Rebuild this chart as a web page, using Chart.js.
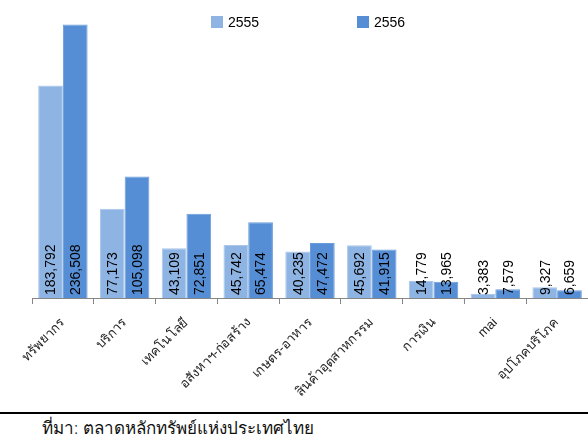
<!DOCTYPE html>
<html>
<head>
<meta charset="utf-8">
<script src="https://cdn.jsdelivr.net/npm/chart.js@4"></script>
<style>
  body { margin: 0; width: 588px; height: 442px; background: #fff; overflow: hidden; position: relative; font-family: "Liberation Sans", Arial, sans-serif; }
  #wrap { position: absolute; left: 0; top: 0; width: 588px; height: 405px; }
  .leg { position: absolute; top: 14px; font-size: 14px; color: #000; }
  .leg span { display: inline-block; width: 12px; height: 12px; vertical-align: -1px; margin-right: 5px; }
  #rule { position: absolute; left: 0; top: 412px; width: 588px; height: 2px; background: #000; }
  #source { position: absolute; left: 42px; top: 414px; font-size: 17px; font-weight: 300; color: #111; font-family: "Noto Sans", sans-serif; }
</style>
</head>
<body>
<div id="wrap"><canvas id="myChart"></canvas></div>
<div class="leg" id="leg0" style="left:211px"></div>
<div class="leg" id="leg1" style="left:357px"></div>
<div id="rule"></div>
<div id="source">ที่มา: ตลาดหลักทรัพย์แห่งประเทศไทย</div>
<script>
const categories = ['ทรัพยากร', 'บริการ', 'เทคโนโลยี', 'อสังหาฯ-ก่อสร้าง', 'เกษตร-อาหาร', 'สินค้าอุตสาหกรรม', 'การเงิน', 'mai', 'อุปโภคบริโภค'];
const years = ['2555', '2556'];
const values2555 = [183792, 77173, 43109, 45742, 40235, 45692, 14779, 3383, 9327];
const values2556 = [236508, 105098, 72851, 65474, 47472, 41915, 13965, 7579, 6659];
const colors = ['#8EB4E3', '#558ED5'];

// legend boxes
years.forEach((y, i) => {
    const el = document.getElementById('leg' + i);
    el.innerHTML = '<span style="background:' + colors[i] + '"></span>' + y;
});

const valueLabels = {
    id: 'valueLabels',
    afterDatasetsDraw(chart) {
        const c = chart.ctx;
        c.save();
        c.fillStyle = '#000';
        c.font = '14px "Liberation Sans", Arial, sans-serif';
        c.textAlign = 'left';
        c.textBaseline = 'middle';
        chart.data.datasets.forEach((ds, i) => {
            chart.getDatasetMeta(i).data.forEach((bar, j) => {
                c.save();
                c.translate(bar.x, bar.base - 3);
                c.rotate(-Math.PI / 2);
                c.fillText(ds.data[j].toLocaleString('en-US'), 0, 1);
                c.restore();
            });
        });
        c.restore();
    }
};

const ctx = document.getElementById('myChart');

new Chart(ctx, {
    type: 'bar',
    data: {
        labels: categories,
        datasets: [{
            label: years[0],
            data: values2555,
            backgroundColor: colors[0],
            borderColor: '#A9C6EA',
            borderWidth: 1
        }, {
            label: years[1],
            data: values2556,
            backgroundColor: colors[1],
            borderColor: '#6A9CDB',
            borderWidth: 1
        }]
    },
    options: {
        responsive: true,
        maintainAspectRatio: false,
        animation: false,
        layout: { padding: { left: 32, right: 0, top: 9, bottom: 0 } },
        plugins: {
            legend: { display: false },
            tooltip: { enabled: false }
        },
        datasets: {
            bar: { categoryPercentage: 0.8, barPercentage: 1.0 }
        },
        scales: {
            x: {
                grid: { drawOnChartArea: false, drawTicks: true, tickLength: 6, offset: true, color: '#868686' },
                border: { display: true, color: '#868686', width: 1 },
                ticks: {
                    minRotation: 45,
                    maxRotation: 45,
                    color: '#222',
                    padding: 11,
                    font: { size: 13, family: '"Liberation Sans", Arial, sans-serif' }
                },
                afterFit: (scale) => { scale.height = 107; }
            },
            y: {
                display: false,
                min: 0,
                max: 250000
            }
        }
    },
    plugins: [valueLabels]
});
</script>
</body>
</html>
